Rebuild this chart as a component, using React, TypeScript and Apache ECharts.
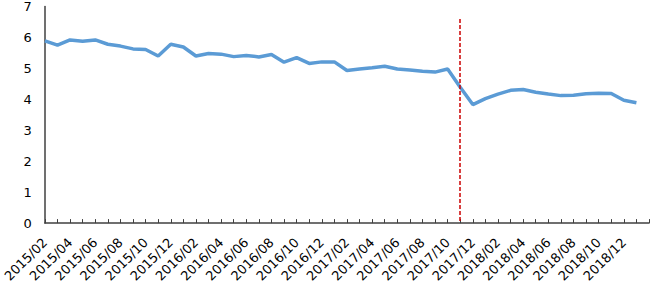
import React, { useEffect, useRef } from "react";
import * as echarts from "echarts";

const categories: string[] = [];
for (let y = 2015; y <= 2019; y++) {
  for (let m = 1; m <= 12; m++) {
    if ((y === 2015 && m < 2) || (y === 2019 && m > 2)) continue;
    categories.push(`${y}/${m < 10 ? "0" + m : m}`);
  }
}

const values: (number | null)[] = [
  5.89, 5.75, 5.92, 5.88, 5.92, 5.78, 5.72, 5.63, 5.61, 5.4,
  5.78, 5.69, 5.4, 5.48, 5.46, 5.38, 5.42, 5.37, 5.45, 5.2,
  5.35, 5.16, 5.21, 5.21, 4.93, 4.98, 5.02, 5.07, 4.98, 4.95,
  4.91, 4.88, 4.98, 4.39, 3.83, 4.02, 4.17, 4.29, 4.32, 4.23,
  4.17, 4.12, 4.13, 4.18, 4.2, 4.19, 3.97, 3.89, null,
];

const markerCategory = "2017/11";
const markerTop = 6.6;

export default function App() {
  const ref = useRef<HTMLDivElement>(null);
  useEffect(() => {
    if (!ref.current) return;
    const chart = echarts.init(ref.current, undefined, { renderer: "svg" });
    const font = "DejaVu Sans";
    chart.setOption({
      animation: false,
      grid: { left: 42, right: 1, top: 5, bottom: 60, containLabel: false },
      xAxis: {
        type: "category",
        data: categories,
        boundaryGap: false,
        axisLine: { lineStyle: { color: "#404040", width: 1.5 } },
        axisTick: { inside: true, length: 4, interval: 0, lineStyle: { color: "#404040" } },
        axisLabel: {
          rotate: 45,
          interval: (i: number) => i % 2 === 0 && i < 47,
          margin: 17,
          fontFamily: font,
          fontSize: 13,
          color: "#000",
        },
        splitLine: { show: false },
      },
      yAxis: {
        type: "value",
        min: 0,
        max: 7,
        interval: 1,
        axisLine: { show: true, lineStyle: { color: "#404040", width: 1.5 } },
        axisTick: { show: false },
        axisLabel: { margin: 13, fontFamily: font, fontSize: 13, color: "#000" },
        splitLine: { show: false },
      },
      series: [
        {
          type: "line",
          data: values,
          symbol: "none",
          lineStyle: { color: "#5B9BD5", width: 3.5 },
          itemStyle: { color: "#5B9BD5" },
          markLine: {
            symbol: "none",
            silent: true,
            label: { show: false },
            lineStyle: { color: "#CC0000", type: [4, 2], width: 1.5 },
            data: [[{ coord: [markerCategory, markerTop] }, { coord: [markerCategory, 0] }]],
          },
        },
      ],
    });
    return () => chart.dispose();
  }, []);
  return (
    <div
      ref={ref}
      style={{ position: "fixed", left: 0, top: 0, width: 650, height: 285, background: "#fff" }}
    />
  );
}
